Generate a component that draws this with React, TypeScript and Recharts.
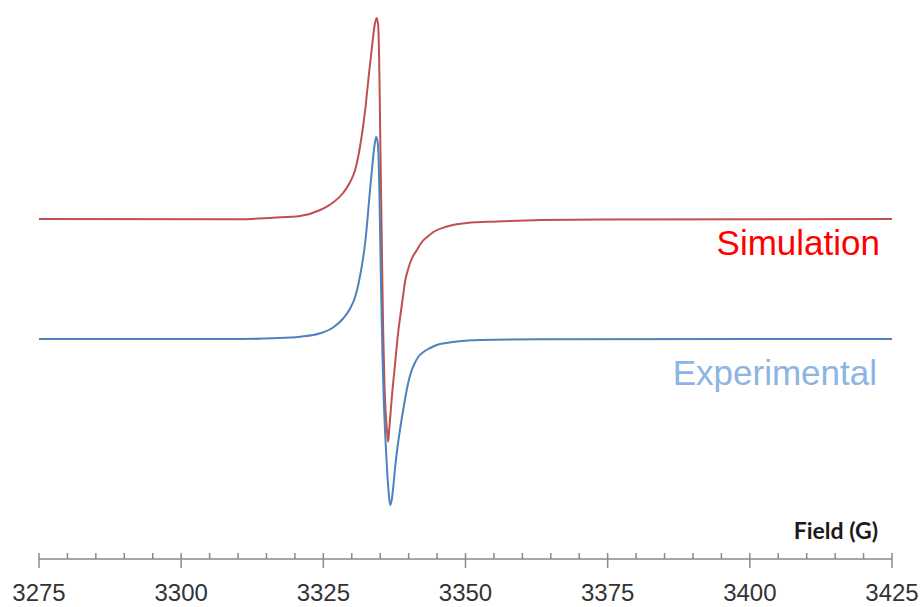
import React from "react";
import { LineChart, Line, XAxis, YAxis } from "recharts";

// EPR spectrum: simulated vs experimental first-derivative signal (a.u.)
const simField = [
  3275, 3310.36, 3316.17, 3320.92, 3324.44, 3326.72, 3328.48, 3329.72, 3330.59, 3331.12,
  3331.47, 3332.0, 3332.44, 3332.71, 3333.06, 3333.59, 3334.03, 3334.38, 3334.64, 3334.82,
  3334.99, 3335.17, 3335.35, 3335.52, 3335.75, 3335.96, 3336.17, 3336.4, 3336.58, 3337.05,
  3337.63, 3338.21, 3338.51, 3339.04, 3339.39, 3339.92, 3340.45, 3341.45, 3342.33, 3343.26,
  3344.37, 3346.73, 3350.25, 3355.53, 3363.14, 3373.7, 3425,
];
const simSignal = [
  0, -0.3, 1.3, 3, 9, 16.5, 26, 37, 49, 62,
  73, 93, 113, 128, 147, 174, 194, 201, 194, 159,
  91, 19, -51, -111, -166, -193, -210, -222.5, -211, -178,
  -144, -111, -98, -76, -62, -50, -41, -31, -23, -18,
  -13, -7.5, -4, -2.5, -1, -0.5, 0,
];

const expField = [
  3275, 3310.36, 3316.17, 3320.92, 3324.44, 3326.72, 3328.48, 3329.72, 3330.59, 3331.17,
  3331.77, 3332.35, 3332.65, 3332.93, 3333.23, 3333.53, 3333.94, 3334.29, 3334.55, 3334.73,
  3334.87, 3334.99, 3335.17, 3335.4, 3335.61, 3335.87, 3336.17, 3336.45, 3336.75, 3337.05,
  3337.33, 3337.63, 3338.0, 3338.5, 3339.1, 3339.7, 3340.27, 3340.85, 3341.68, 3342.61,
  3343.79, 3344.97, 3346.61, 3348.49, 3352.59, 3363.14, 3425,
];
const expSignal = [
  0, 0, 0.7, 2.3, 5.7, 11.5, 20.5, 30.5, 42, 55,
  73, 96, 112.5, 131, 150.5, 168, 191, 202, 197, 179,
  144, 104, 46, -16, -58, -94, -127, -151, -166, -160,
  -146, -128, -110, -90, -69, -50, -36, -27, -18, -13,
  -9, -6, -4, -2.5, -1, -0.3, 0,
];

// vertical offset of the simulated trace above the experimental one
const SIM_OFFSET = 120;

const majorTicks = [3275, 3300, 3325, 3350, 3375, 3400, 3425];
const allTicks = [
  3275, 3280, 3285, 3290, 3295, 3300, 3305, 3310, 3315, 3320, 3325,
  3330, 3335, 3340, 3345, 3350, 3355, 3360, 3365, 3370, 3375,
  3380, 3385, 3390, 3395, 3400, 3405, 3410, 3415, 3420, 3425,
];

const simData = simField.map((x, i) => ({ x, y: simSignal[i] + SIM_OFFSET }));
const expData = expField.map((x, i) => ({ x, y: expSignal[i] }));

const AXIS_GREY = "#8a8a8a";

function FieldTick(props: any) {
  const { x, y, payload } = props;
  const isMajor = majorTicks.includes(payload.value);
  return (
    <g>
      <line
        x1={x}
        x2={x}
        y1={y - 6}
        y2={isMajor ? y + 9 : y}
        stroke={AXIS_GREY}
        strokeWidth={1.5}
      />
      {isMajor && (
        <text
          x={x}
          y={y + 42}
          textAnchor="middle"
          fontFamily="'Liberation Sans', Arial, sans-serif"
          fontSize={24}
          fill="#333333"
        >
          {payload.value}
        </text>
      )}
    </g>
  );
}

export default function App() {
  return (
    <div style={{ position: "absolute", left: 0, top: 0, width: 923, height: 607 }}>
      <LineChart
        width={923}
        height={607}
        margin={{ top: 0, right: 31, left: 39, bottom: 0 }}
      >
        <XAxis
          type="number"
          dataKey="x"
          domain={[3275, 3425]}
          ticks={allTicks}
          interval={0}
          tickSize={0}
          tickMargin={0}
          tickLine={false}
          tick={<FieldTick />}
          height={48}
          axisLine={{ stroke: AXIS_GREY, strokeWidth: 1.5 }}
          allowDataOverflow
        />
        <YAxis hide type="number" domain={[-220, 339]} allowDataOverflow width={0} />
        <Line
          data={simData}
          dataKey="y"
          type="monotone"
          stroke="#c0504d"
          strokeWidth={2}
          dot={false}
          activeDot={false}
          isAnimationActive={false}
        />
        <Line
          data={expData}
          dataKey="y"
          type="monotone"
          stroke="#4f81bd"
          strokeWidth={2}
          dot={false}
          activeDot={false}
          isAnimationActive={false}
        />
      </LineChart>
      <svg
        width={923}
        height={607}
        style={{ position: "absolute", left: 0, top: 0, pointerEvents: "none" }}
      >
        <text
          x={880}
          y={255}
          textAnchor="end"
          fontFamily="'Liberation Sans', Arial, sans-serif"
          fontSize={35}
          fill="#ff0000"
        >
          Simulation
        </text>
        <text
          x={877}
          y={385}
          textAnchor="end"
          fontFamily="'Liberation Sans', Arial, sans-serif"
          fontSize={35}
          fill="#8db4e2"
        >
          Experimental
        </text>
        <text
          x={878}
          y={539}
          textAnchor="end"
          fontFamily="Lato, 'Liberation Sans', sans-serif"
          fontWeight={700}
          fontSize={23}
          fill="#1a1a1a"
        >
          Field (G)
        </text>
      </svg>
    </div>
  );
}
